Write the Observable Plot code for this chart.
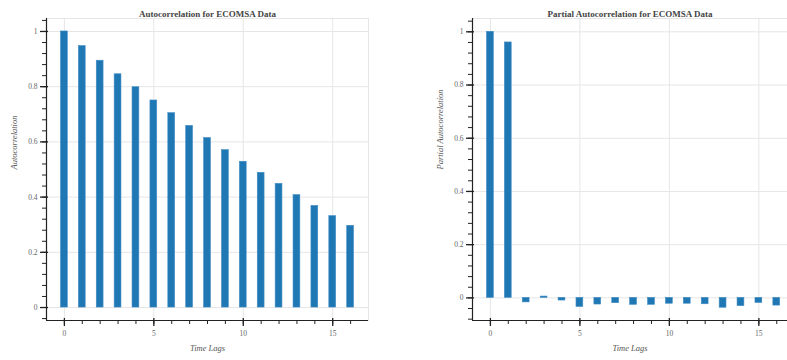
<!DOCTYPE html>
<html><head><meta charset="utf-8">
<script src="https://cdn.jsdelivr.net/npm/d3@7"></script>
<script src="https://cdn.jsdelivr.net/npm/@observablehq/plot@0.6"></script>
<style>
body{margin:0;background:#fff;}
#wrap{position:relative;width:787px;height:360px;overflow:hidden;}
#left{position:absolute;left:0;top:0;}
#right{position:absolute;left:400px;top:0;}
svg{font-family:"Liberation Serif", serif;}
</style></head><body>
<div id="wrap"><div id="left"></div><div id="right"></div></div>
<script>
const lags = [0,1,2,3,4,5,6,7,8,9,10,11,12,13,14,15,16];
const acfValues = [1, 0.947, 0.894, 0.845, 0.798, 0.750, 0.704, 0.658, 0.614, 0.570, 0.528, 0.488, 0.448, 0.407, 0.368, 0.331, 0.296];
const pacfValues = [1, 0.960, -0.017, 0.005, -0.010, -0.034, -0.025, -0.020, -0.026, -0.026, -0.022, -0.022, -0.024, -0.037, -0.031, -0.019, -0.029];
const xMajorTicks = [0, 5, 10, 15];
const yMajorTicks = [0, 0.2, 0.4, 0.6, 0.8, 1];
const yTickLabels = ["0", "0.2", "0.4", "0.6", "0.8", "1"];
const xLabel = "Time Lags";

function panel({values, title, ylabel, width, marginLeft, marginRight, xDomain, yDomain}) {
  const data = lags.map((lag, i) => ({lag, value: values[i]}));
  const yMinor = d3.range(Math.ceil(yDomain[0] / 0.04), Math.floor(yDomain[1] / 0.04) + 1).map(k => +(k * 0.04).toFixed(2));
  const fmt = d => yTickLabels[yMajorTicks.indexOf(d)] ?? String(d);
  return Plot.plot({
    width, height: 360,
    marginLeft, marginRight, marginTop: 18, marginBottom: 40,
    x: {domain: xDomain, axis: null},
    y: {domain: yDomain, axis: null},
    style: {fontFamily: '"Liberation Serif", serif', background: "#fff"},
    marks: [
      Plot.frame({stroke: "#e6e6e6"}),
      Plot.gridX(xMajorTicks, {stroke: "#e6e6e6", strokeOpacity: 1, strokeWidth: 1}),
      Plot.gridY(yMajorTicks, {stroke: "#e6e6e6", strokeOpacity: 1, strokeWidth: 1}),
      Plot.rectY(data, {x1: d => d.lag - 0.19, x2: d => d.lag + 0.19, y1: 0, y2: "value", fill: "#1f77b4", stroke: "#3f8cc4", strokeWidth: 0.6}),
      Plot.ruleY([yDomain[0]], {stroke: "#222", strokeWidth: 1.2}),
      Plot.ruleX([xDomain[0]], {stroke: "#222", strokeWidth: 1.2}),
      // x minor ticks
      Plot.axisX(lags, {tickSize: 4, tickFormat: () => "", label: null, stroke: "#222"}),
      // x major ticks
      Plot.axisX(xMajorTicks, {tickSize: 8, dy: -2, tickFormat: () => "", label: null, stroke: "#222", strokeWidth: 1.3}),
      // x labels
      Plot.axisX(xMajorTicks, {tickSize: 0, tickPadding: 10, fontSize: 7.5, fill: "#666", label: null}),
      // y minor ticks
      Plot.axisY(yMinor, {tickSize: 4, tickFormat: () => "", label: null, stroke: "#222"}),
      // y major ticks
      Plot.axisY(yMajorTicks, {tickSize: 8, dx: 2, tickFormat: () => "", label: null, stroke: "#222", strokeWidth: 1.3}),
      // y labels
      Plot.axisY(yMajorTicks, {tickSize: 0, tickPadding: 9, tickFormat: fmt, fontSize: 7.5, fill: "#666", label: null}),
      Plot.text([title], {frameAnchor: "top", dy: -8, fontSize: 9, fontWeight: "bold", fill: "#444"}),
      Plot.text([xLabel], {frameAnchor: "bottom", dy: 30, fontSize: 8.5, fontStyle: "italic", fill: "#555"}),
      Plot.text([ylabel], {frameAnchor: "left", dx: -32, rotate: -90, fontSize: 8.5, fontStyle: "italic", fill: "#555"})
    ]
  });
}

document.getElementById("left").append(panel({
  values: acfValues, title: "Autocorrelation for ECOMSA Data", ylabel: "Autocorrelation",
  width: 380, marginLeft: 46, marginRight: 12, xDomain: [-1, 17], yDomain: [-0.047, 1.047]
}));
document.getElementById("right").append(panel({
  values: pacfValues, title: "Partial Autocorrelation for ECOMSA Data", ylabel: "Partial Autocorrelation",
  width: 387, marginLeft: 72, marginRight: 0, xDomain: [-1, 16.6], yDomain: [-0.085, 1.05]
}));
</script>
</body></html>
